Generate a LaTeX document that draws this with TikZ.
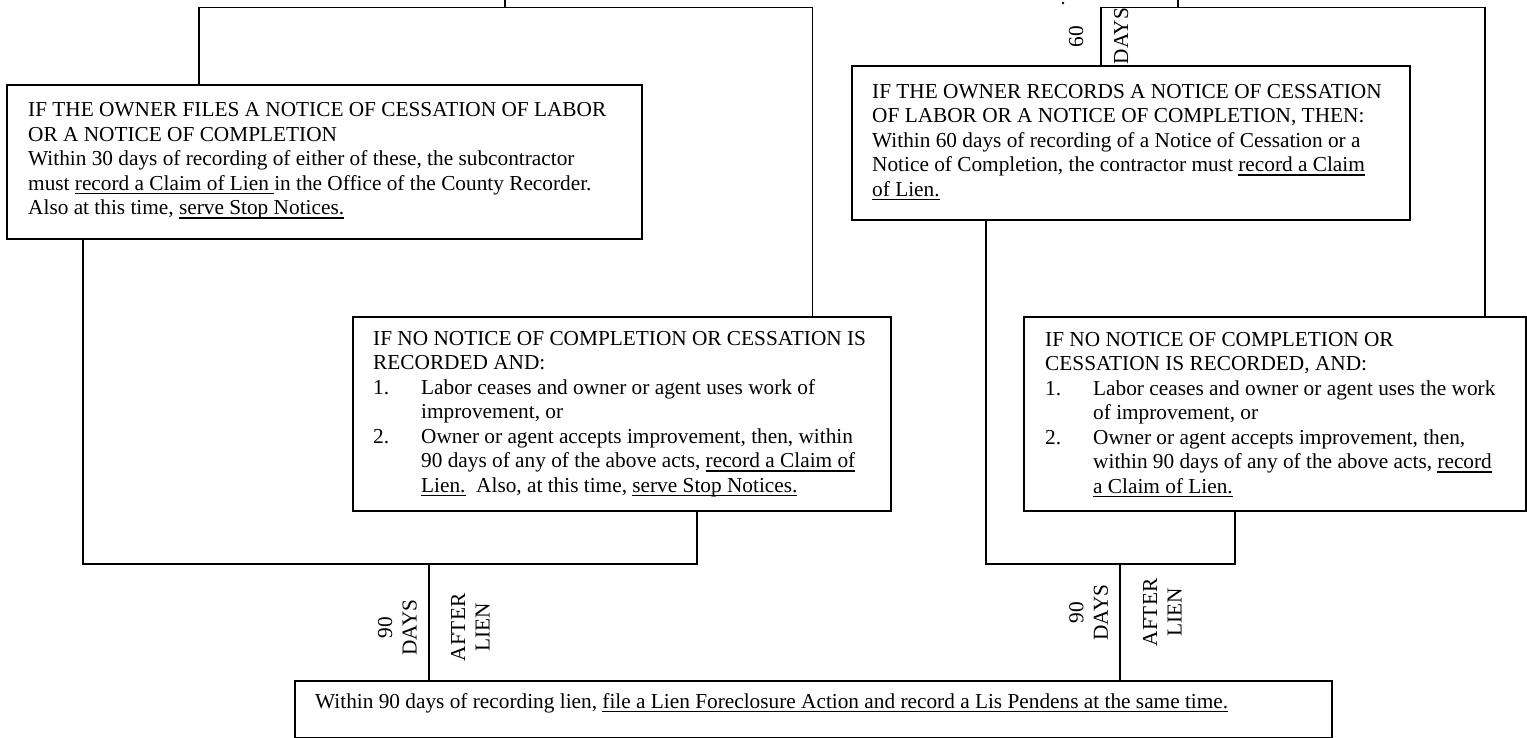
\documentclass[tikz,border=0pt]{standalone}
\usepackage{fontspec}
\setmainfont{Liberation Serif}
\newsavebox\ulxbox
\newcommand{\ulx}[1]{\sbox\ulxbox{#1}\rlap{\rule[-4.2pt]{\wd\ulxbox}{1.5pt}}\usebox\ulxbox}
\newcommand{\itemx}[1]{\makebox[48pt][l]{#1}}
\newcommand{\indx}{\hspace*{48pt}}
\tikzset{
  box/.style={draw, line width=1.8pt, rectangle, inner sep=0pt, anchor=north west},
  txt/.style={inner sep=0pt, anchor=north west, align=left, font=\fontsize{21.3pt}{24.5pt}\selectfont},
  vlab/.style={inner sep=0pt, rotate=90, align=center, font=\fontsize{21.3pt}{24.5pt}\selectfont},
  conn/.style={line width=1.8pt}
}
\begin{document}
\begin{tikzpicture}[x=1pt,y=-1pt]
\useasboundingbox (0,0) rectangle (1527,738);
% boxes
\node[box, minimum width=635pt, minimum height=154pt] (b1) at (6,84) {};
\node[box, minimum width=558pt, minimum height=154pt] (b2) at (851,65) {};
\node[box, minimum width=538pt, minimum height=194pt] (b3) at (352,316) {};
\node[box, minimum width=502pt, minimum height=194pt] (b4) at (1023,316) {};
\node[box, minimum width=1037pt, minimum height=57pt] (b5) at (294,680) {};
% texts
\node[txt] (t1) at (28,99.35) {\strut IF THE OWNER FILES A NOTICE OF CESSATION OF LABOR\\
OR A NOTICE OF COMPLETION\\
Within 30 days of recording of either of these, the subcontractor\\
must \ulx{record a Claim of Lien\ }in the Office of the County Recorder.\\
Also at this time, \ulx{serve Stop Notices.}};
\node[txt] (t2) at (872,80.85) {\strut IF THE OWNER RECORDS A NOTICE OF CESSATION\\
OF LABOR OR A NOTICE OF COMPLETION, THEN:\\
Within 60 days of recording of a Notice of Cessation or a\\
Notice of Completion, the contractor must \ulx{record a Claim}\\
\ulx{of Lien.}};
\node[txt] (t3) at (373,327.85) {\strut IF NO NOTICE OF COMPLETION OR CESSATION IS\\
RECORDED AND:\\
\itemx{1.}Labor ceases and owner or agent uses work of\\
\indx improvement, or\\
\itemx{2.}Owner or agent accepts improvement, then, within\\
\indx 90 days of any of the above acts, \ulx{record a Claim of}\\
\indx \ulx{Lien.}\ \ Also, at this time, \ulx{serve Stop Notices.}};
\node[txt] (t4) at (1045,328.85) {\strut IF NO NOTICE OF COMPLETION OR\\
CESSATION IS RECORDED, AND:\\
\itemx{1.}Labor ceases and owner or agent uses the work\\
\indx of improvement, or\\
\itemx{2.}Owner or agent accepts improvement, then,\\
\indx within 90 days of any of the above acts, \ulx{record}\\
\indx \ulx{a Claim of Lien.}};
\node[txt, anchor=base west] (t5) at (315,708) {Within 90 days of recording lien, \ulx{file a Lien Foreclosure Action and record a Lis Pendens at the same time.}};
% left tree
\coordinate (tL) at (505,0);
\coordinate (L1) at (199,7.5);
\coordinate (L2) at (812.5,7.5);
\draw[conn] (tL) -- (tL |- L1);
\draw[conn] (L1 |- b1.north) -- (L1) -- (L2) -- (L2 |- b3.north);
\coordinate (c1) at (83,564);
\coordinate (c2) at (697,564);
\coordinate (cL) at (429,564);
\draw[conn] (c1 |- b1.south) -- (c1) -- (c2) -- (c2 |- b3.south);
\draw[conn] (cL) -- (cL |- b5.north);
% right tree
\coordinate (tR) at (1178,0);
\coordinate (R1) at (1101,7.5);
\coordinate (R2) at (1485,7.5);
\draw[conn] (tR) -- (tR |- R1);
\draw[conn] (R1 |- b2.north) -- (R1) -- (R2) -- (R2 |- b4.north);
\coordinate (d1) at (986,564);
\coordinate (d2) at (1235,564);
\coordinate (dR) at (1120,564);
\draw[conn] (d1 |- b2.south) -- (d1) -- (d2) -- (d2 |- b4.south);
\draw[conn] (dR) -- (dR |- b5.north);
% labels
\node[vlab, anchor=base] (l60) at (1083,36.5) {60};
\node[vlab, anchor=base] (ldays) at (1128,36) {DAYS};
\node[vlab] (la) at (399.5,627.5) {\strut 90\\\strut DAYS};
\node[vlab] (lb) at (472.4,627.5) {\strut AFTER\\\strut LIEN};
\node[vlab] (lc) at (1090.6,612.5) {\strut 90\\\strut DAYS};
\node[vlab] (ld) at (1164.5,612.5) {\strut AFTER\\\strut LIEN};
\fill (1063,3) circle (1.3pt);
\end{tikzpicture}
\end{document}
